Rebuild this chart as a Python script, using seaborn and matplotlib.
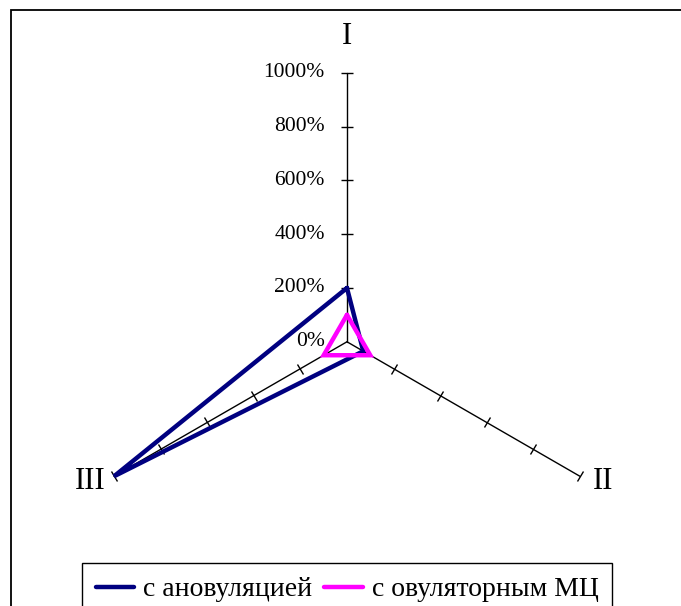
import numpy as np
import pandas as pd
import matplotlib
matplotlib.use("Agg")
import matplotlib.pyplot as plt
import seaborn as sns
from matplotlib.patches import Rectangle
from matplotlib.lines import Line2D
from matplotlib.markers import MarkerStyle
from matplotlib.transforms import Affine2D

# ---- data ----
categories = ["I", "II", "III"]
anovulation = [200, 70, 1000]
ovulatory = [100, 100, 100]
series_names = ["с ановуляцией", "с овуляторным МЦ"]
tick_values = [0, 200, 400, 600, 800, 1000]
tick_labels = ["0%", "200%", "400%", "600%", "800%", "1000%"]

colors = {"с ановуляцией": "#000080", "с овуляторным МЦ": "#FF00FF"}

sns.set_theme(style="white")
plt.rcParams['font.family'] = ['Liberation Serif', 'DejaVu Serif']
plt.rcParams['text.color'] = 'black'

fig = plt.figure(figsize=(6.81, 6.06), dpi=100)
ax = fig.add_axes([0.1145, -0.008, 0.79, 0.888], projection='polar')
ax.set_theta_offset(np.pi / 2)
ax.set_theta_direction(-1)
ax.set_ylim(0, max(tick_values))
ax.grid(False)
ax.spines['polar'].set_visible(False)
ax.set_xticks([])
ax.set_yticks([])
ax.patch.set_alpha(0)

n = len(categories)
angles = np.arange(n) * 2 * np.pi / n
tick_rot = [90, -30, 30]

# spokes with tick marks
for a, rot in zip(angles, tick_rot):
    ax.plot([a, a], [0, max(tick_values)], color='black', lw=1.0, zorder=1, clip_on=False)
    m = MarkerStyle('|', transform=Affine2D().rotate_deg(rot))
    ax.plot([a] * (len(tick_values) - 1), tick_values[1:], linestyle='none',
            marker=m, markersize=9, mec='black', mew=1.0, zorder=1, clip_on=False)

# data polygons
rows = []
for name, vals in zip(series_names, [anovulation, ovulatory]):
    th = list(angles) + [angles[0]]
    vv = list(vals) + [vals[0]]
    for t, v in zip(th, vv):
        rows.append({"series": name, "theta": t, "value": v})
df = pd.DataFrame(rows)

sns.lineplot(data=df, x='theta', y='value', hue='series', palette=colors,
             sort=False, estimator=None, units='series', linewidth=3.2, legend=False,
             ax=ax, clip_on=False, solid_joinstyle='miter', zorder=3)
ax.set_xlabel("")
ax.set_ylabel("")

# value labels on axis I
for v, lab in zip(tick_values, tick_labels):
    ax.annotate(lab, xy=(angles[0], v), xytext=(-16, 0), textcoords='offset points',
                ha='right', va='center', fontsize=15.5, color='black', annotation_clip=False)

# category labels
cat_offsets = [(0, 26), (17, -4), (-17, -4)]
for a, cat, off in zip(angles, categories, cat_offsets):
    ax.annotate(cat, xy=(a, max(tick_values)), xytext=off, textcoords='offset points',
                ha='center', va='center', fontsize=22, color='black', annotation_clip=False)

# outer chart border
fig.add_artist(Rectangle((11 / 681, -0.1), 2, 596 / 606 + 0.1, transform=fig.transFigure,
                         fill=False, lw=1.3, ec='black'))

# legend
handles = [Line2D([], [], color=colors[s], lw=3.2) for s in series_names]
leg = fig.legend(handles, series_names, loc='upper center',
                 bbox_to_anchor=(347 / 681, 1 - 563 / 606), ncol=2, frameon=True,
                 fancybox=False, edgecolor='black', fontsize=20, handlelength=1.4,
                 handletextpad=0.3, columnspacing=0.45, borderpad=0.5, framealpha=1,
                 borderaxespad=0)
leg.get_frame().set_linewidth(1.0)
for t in leg.get_texts():
    t.set_color('black')

fig.savefig("out.png", dpi=100)
